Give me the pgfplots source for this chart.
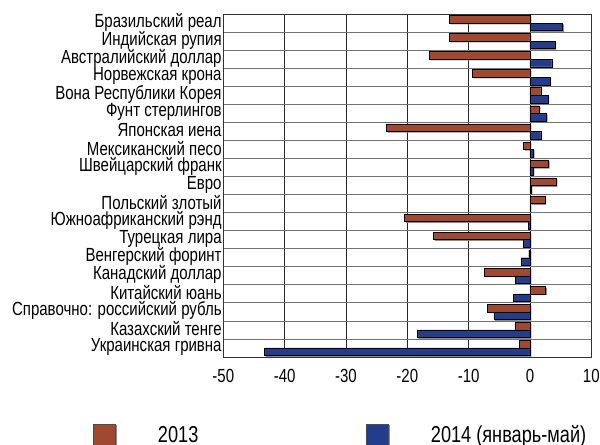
\documentclass[border=0pt]{standalone}
\usepackage{fontspec}
\setmainfont{Liberation Sans}[FakeStretch=0.79]
\usepackage{pgfplots}
\pgfplotsset{compat=1.18}
\definecolor{cbrown}{RGB}{160,72,48}
\definecolor{cblue}{RGB}{35,60,140}
\begin{document}
\begin{tikzpicture}[font=\fontsize{19bp}{19bp}\selectfont]
\useasboundingbox (-223.3bp,-88bp) rectangle (376.7bp,357bp);
\begin{axis}[
  at={(0,0)}, anchor=south west, scale only axis,
  width=368bp, height=343bp,
  xmin=-50, xmax=10, ymin=-0.5, ymax=18.5,
  xtick={-50,-40,...,10},
  ytick={0,...,18},
  yticklabels={Украинская гривна,Казахский тенге,Справочно: российский рубль,Китайский юань,Канадский доллар,Венгерский форинт,Турецкая лира,Южноафриканский рэнд,Польский злотый,Евро,Швейцарский франк,Мексиканский песо,Японская иена,Фунт стерлингов,Вона Республики Корея,Норвежская крона,Австралийский доллар,Индийская рупия,Бразильский реал},
  minor ytick={-0.5,0.5,...,18.5},
  xmajorgrids, yminorgrids,
  major grid style={draw=black!85, line width=0.5bp},
  minor grid style={draw=black!55, line width=0.7bp},
  axis line style={draw=black!80, line width=0.6bp},
  major tick length=0pt, minor tick length=0pt,
  /pgf/number format/assume math mode=true,
  xticklabel style={inner sep=0pt, yshift=-12bp},
  yticklabel style={inner sep=0pt, xshift=-1.5bp, yshift=1bp},
  xbar, bar width=0.42,
  legend style={at={(-0.3533,-0.2274)}, anchor=west, draw=none, fill=none,
    inner sep=0pt, column sep=0pt, nodes={inner sep=0pt},
    font=\fontsize{23bp}{23bp}\selectfont},
  legend columns=2,
]
\addplot[draw=black, line width=0.4bp, fill=cbrown, bar shift=0.21,
  preaction={fill=black!45, draw=none, transform canvas={xshift=1.3bp,yshift=-1.3bp}},
  legend image code/.code={\draw[draw=black!70, line width=0.5bp, fill=cbrown] (0bp,-11bp) rectangle (22bp,11bp);}]
  coordinates {
  (-1.68,0) (-2.37,1) (-6.9,2) (2.56,3) (-7.4,4) (-0.2,5) (-15.7,6)
  (-20.45,7) (2.43,8) (4.24,9) (3.0,10) (-1.06,11) (-23.4,12) (1.5,13)
  (1.75,14) (-9.35,15) (-16.4,16) (-13.1,17) (-13.1,18)};
\addlegendentry{\hspace*{42bp}2013\hspace*{168bp}}
\addplot[draw=black, line width=0.4bp, fill=cblue, bar shift=-0.21,
  preaction={fill=black!45, draw=none, transform canvas={xshift=1.3bp,yshift=-1.3bp}},
  legend image code/.code={\draw[draw=black!70, line width=0.5bp, fill=cblue] (0bp,-11bp) rectangle (22bp,11bp);}]
  coordinates {
  (-43.3,0) (-18.4,1) (-5.9,2) (-2.68,3) (-2.37,4) (-1.37,5) (-1.06,6)
  (-0.3,7) (0.05,8) (0.2,9) (0.5,10) (0.56,11) (1.75,12) (2.68,13)
  (2.93,14) (3.24,15) (3.55,16) (4.05,17) (5.3,18)};
\addlegendentry{\hspace*{42bp}2014 (январь-май)}
\end{axis}
\end{tikzpicture}
\end{document}
